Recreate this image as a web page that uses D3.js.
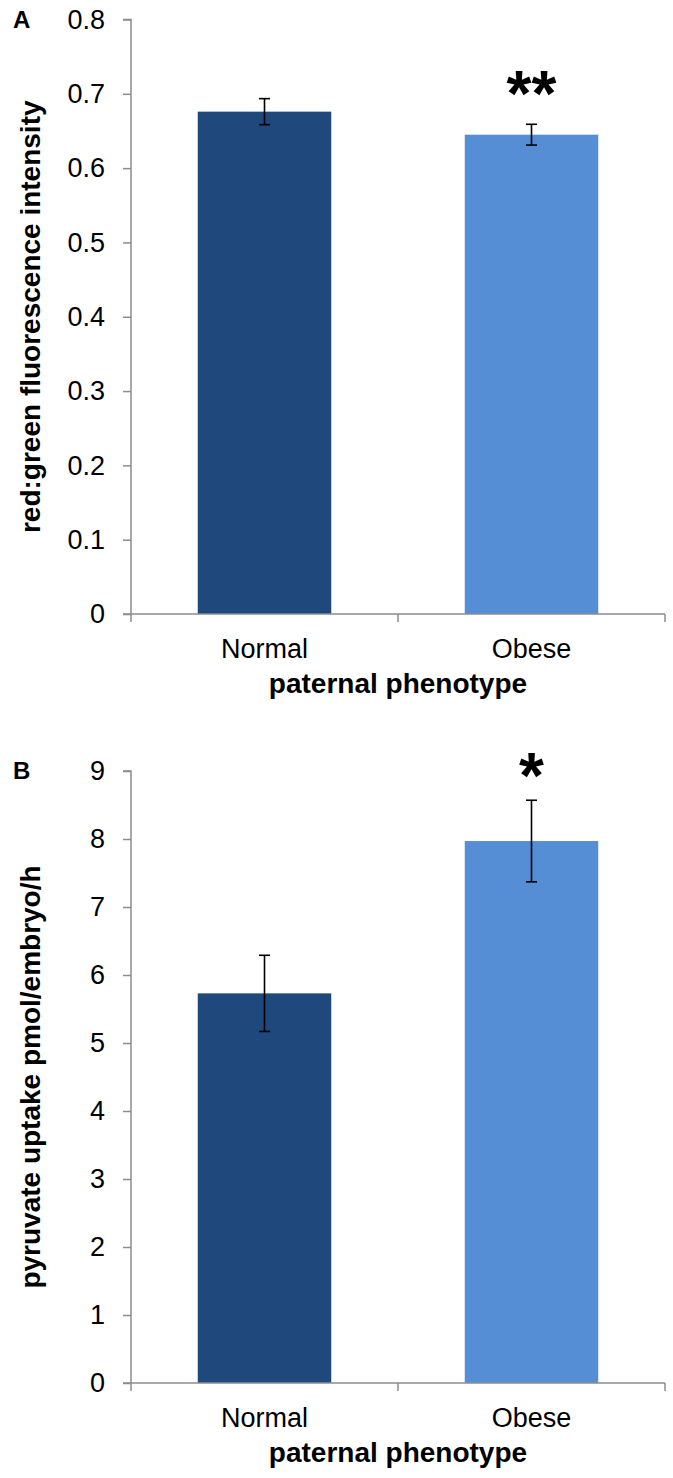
<!DOCTYPE html>
<html>
<head>
<meta charset="utf-8">
<script src="https://cdn.jsdelivr.net/npm/d3@7"></script>
<style>
  html, body { margin: 0; padding: 0; background: #fff; }
  svg { display: block; font-family: "Liberation Sans", Arial, sans-serif; }
</style>
</head>
<body>
<svg id="chart" width="673" height="1478"></svg>
<script>
// ---- Data ----
const categories = ["Normal", "Obese"];
const colors = ["#1F497D", "#558ED5"];

// Panel A
const valuesA = [0.676, 0.645];
const errorsA = [0.0175, 0.014];
const ticksA = [0, 0.1, 0.2, 0.3, 0.4, 0.5, 0.6, 0.7, 0.8];
const sigA = ["", "**"];

// Panel B
const valuesB = [5.73, 7.97];
const errorsB = [0.56, 0.6];
const ticksB = [0, 1, 2, 3, 4, 5, 6, 7, 8, 9];
const sigB = ["", "*"];

const svg = d3.select("#chart");

function panel(opts) {
  const { top, bottom, left, right, yMax, ticks, fmt, values, errors, sig, yTitle, letter, sigSize, sigGap } = opts;
  const g = svg.append("g");
  const y = d3.scaleLinear().domain([0, yMax]).range([bottom, top]);
  const x = d3.scaleBand().domain(categories).range([left, right]).paddingInner(0.5).paddingOuter(0.25);

  // bars
  g.selectAll("rect.bar").data(categories).enter().append("rect")
    .attr("x", d => x(d)).attr("width", x.bandwidth())
    .attr("y", (d, i) => y(values[i]))
    .attr("height", (d, i) => y(0) - y(values[i]))
    .attr("fill", (d, i) => colors[i]);

  // y axis
  const yAxis = d3.axisLeft(y).tickValues(ticks).tickFormat(fmt).tickSize(8).tickPadding(18);
  const ya = g.append("g").attr("transform", `translate(${left},0)`).call(yAxis);
  ya.select(".domain").attr("stroke", "#8c8c8c").attr("stroke-width", 1.5).attr("d", `M-8,${top}H0V${bottom}`);
  ya.selectAll(".tick line").attr("stroke", "#8c8c8c").attr("stroke-width", 1.5);
  ya.selectAll(".tick text").attr("font-size", 27).attr("fill", "#000")
    .attr("font-family", "'Liberation Sans', Arial, sans-serif");

  // x axis
  const xPos = d3.scalePoint().domain([0, 1, 2]).range([left, right]);
  const xa = g.append("g");
  xa.append("line").attr("x1", left - 8).attr("x2", right).attr("y1", bottom).attr("y2", bottom)
    .attr("stroke", "#8c8c8c").attr("stroke-width", 1.5);
  xa.selectAll("line.t").data([0, 1, 2]).enter().append("line")
    .attr("x1", d => xPos(d)).attr("x2", d => xPos(d))
    .attr("y1", bottom).attr("y2", bottom + 8)
    .attr("stroke", "#8c8c8c").attr("stroke-width", 1.5);
  xa.selectAll("text.cat").data(categories).enter().append("text")
    .attr("x", d => x(d) + x.bandwidth() / 2).attr("y", bottom + 44)
    .attr("text-anchor", "middle").attr("font-size", 27).text(d => d);

  // x title
  g.append("text").attr("x", (left + right) / 2).attr("y", bottom + 79)
    .attr("text-anchor", "middle").attr("font-size", 28).attr("font-weight", "bold")
    .text("paternal phenotype");

  // y title
  g.append("text").attr("transform", `translate(40,${(top + bottom) / 2}) rotate(-90)`)
    .attr("text-anchor", "middle").attr("font-size", 28).attr("font-weight", "bold")
    .text(yTitle);

  // panel letter
  g.append("text").attr("x", 13).attr("y", top + 8).attr("font-size", 24).attr("font-weight", "bold").text(letter);

  // error bars
  categories.forEach((c, i) => {
    const cx = x(c) + x.bandwidth() / 2;
    const y1 = y(values[i] + errors[i]), y2 = y(values[i] - errors[i]);
    const eg = g.append("g").attr("stroke", "#000").attr("stroke-width", 1.6);
    eg.append("line").attr("x1", cx).attr("x2", cx).attr("y1", y1).attr("y2", y2);
    eg.append("line").attr("x1", cx - 5.5).attr("x2", cx + 5.5).attr("y1", y1).attr("y2", y1);
    eg.append("line").attr("x1", cx - 5.5).attr("x2", cx + 5.5).attr("y1", y2).attr("y2", y2);
    if (sig[i]) {
      g.append("text").attr("x", cx).attr("y", y1 - sigGap + sigSize * 0.6)
        .attr("text-anchor", "middle").attr("font-size", sigSize).attr("font-weight", "bold")
        .text(sig[i]);
    }
  });
}

panel({ top: 19.5, bottom: 614, left: 131, right: 665, yMax: 0.8, ticks: ticksA,
  fmt: d => d === 0 ? "0" : d3.format(".1f")(d), values: valuesA, errors: errorsA, sig: sigA,
  yTitle: "red:green fluorescence intensity", letter: "A", sigSize: 64, sigGap: 47 });

panel({ top: 771, bottom: 1383, left: 131, right: 665, yMax: 9, ticks: ticksB,
  fmt: d3.format("d"), values: valuesB, errors: errorsB, sig: sigB,
  yTitle: "pyruvate uptake pmol/embryo/h", letter: "B", sigSize: 64, sigGap: 41 });
</script>
</body>
</html>
